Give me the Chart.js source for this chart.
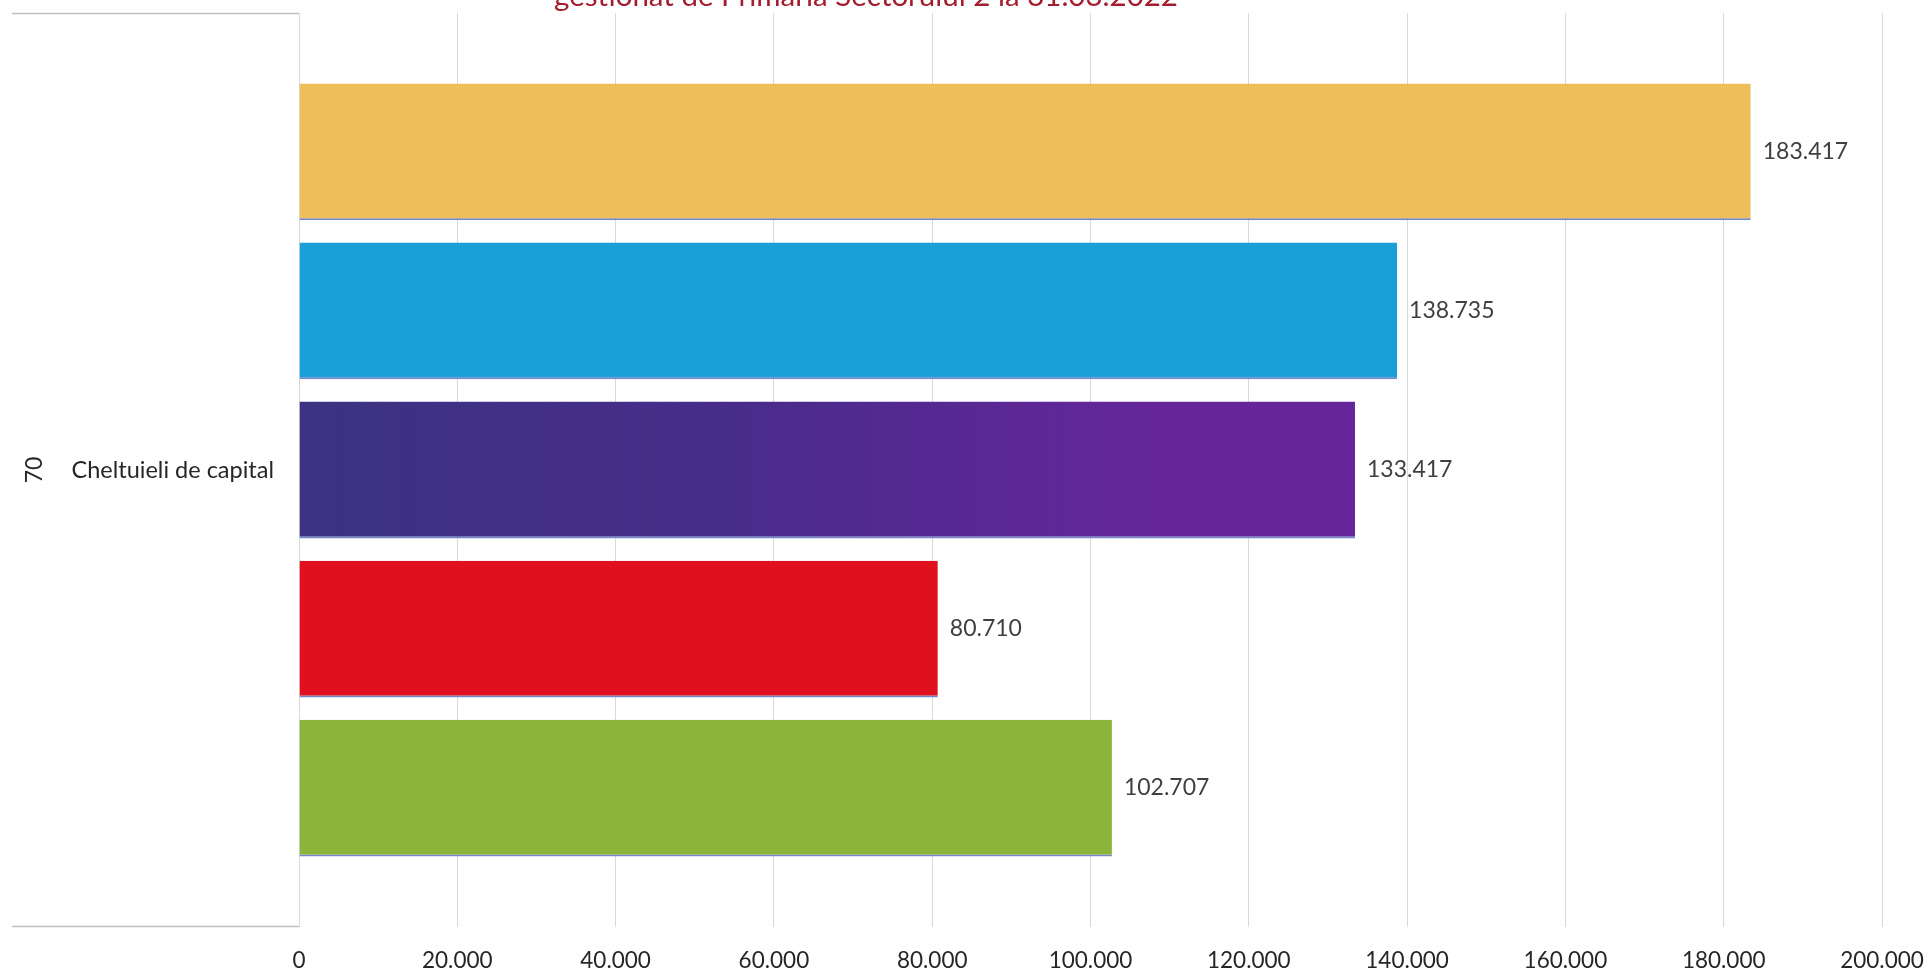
<!DOCTYPE html>
<html>
<head>
<meta charset="utf-8">
<script src="https://cdn.jsdelivr.net/npm/chart.js@4"></script>
<style>
  html, body { margin: 0; padding: 0; background: #ffffff; }
  #wrap { width: 1928px; height: 974px; position: relative; }
</style>
</head>
<body>
<div id="wrap"><canvas id="c" width="1928" height="974"></canvas></div>
<script>
// ---- data ----
const categoryCodes = ['70'];
const categories = ['Cheltuieli de capital'];
const seriesNames = ['Seria 1', 'Seria 2', 'Seria 3', 'Seria 4', 'Seria 5'];
const seriesValues = [[183417], [138735], [133417], [80710], [102707]];
const seriesColors = ['#EEBE5B', '#1B9FD8', 'purple-gradient', '#E0101E', '#8CB43B'];
const xTicks = [0, 20000, 40000, 60000, 80000, 100000, 120000, 140000, 160000, 180000, 200000];
const titleText = 'gestionat de Primăria Sectorului 2 la 31.03.2022';

const FONT = 'Lato, "Open Sans", sans-serif';
const fmt = v => String(Math.round(v)).replace(/\B(?=(\d{3})+(?!\d))/g, '.');

function purpleGradient(ctx) {
  const chart = ctx.chart;
  const area = chart.chartArea;
  if (!area) return '#4F2D8E';
  const g = chart.ctx.createLinearGradient(area.left, 0, area.left + (area.right - area.left) * 0.55, 0);
  g.addColorStop(0, '#3B3383');
  g.addColorStop(0.5, '#482C8A');
  g.addColorStop(1, '#66269B');
  return g;
}

const datasets = seriesNames.map((name, i) => ({
  label: name,
  data: seriesValues[i],
  backgroundColor: seriesColors[i] === 'purple-gradient' ? purpleGradient : seriesColors[i],
  borderColor: '#7388C8',
  borderWidth: { top: 0, right: 0, bottom: 2, left: 0 },
  borderSkipped: false,
  categoryPercentage: 0.87,
  barPercentage: 0.86
}));

const extras = {
  id: 'extras',
  afterDraw(chart) {
    const ctx = chart.ctx;
    const a = chart.chartArea;
    ctx.save();
    // left category box lines
    ctx.strokeStyle = '#BFBFBF';
    ctx.lineWidth = 1.5;
    ctx.beginPath();
    ctx.moveTo(12, a.top + 0.5); ctx.lineTo(a.left, a.top + 0.5);
    ctx.moveTo(12, a.bottom - 0.5); ctx.lineTo(a.left, a.bottom - 0.5);
    ctx.stroke();
    // category labels + codes
    const yScale = chart.scales.y;
    categories.forEach((cat, i) => {
      const y = yScale.getPixelForValue(i);
      ctx.fillStyle = '#262626';
      ctx.font = '23.5px ' + FONT;
      ctx.textAlign = 'right';
      ctx.textBaseline = 'middle';
      ctx.fillText(cat, a.left - 25, y);
      ctx.save();
      ctx.translate(35, y);
      ctx.rotate(-Math.PI / 2);
      ctx.font = '23px ' + FONT;
      ctx.textAlign = 'center';
      ctx.fillText(categoryCodes[i], 0, 0);
      ctx.restore();
    });
    // data labels
    ctx.fillStyle = '#404040';
    ctx.font = '23px ' + FONT;
    ctx.textAlign = 'left';
    ctx.textBaseline = 'middle';
    chart.data.datasets.forEach((ds, di) => {
      const meta = chart.getDatasetMeta(di);
      meta.data.forEach((bar, j) => {
        ctx.fillText(fmt(ds.data[j]), bar.x + 12, bar.y);
      });
    });
    // cut-off title
    ctx.fillStyle = '#A31D2E';
    ctx.font = '29.5px ' + FONT;
    ctx.textAlign = 'center';
    ctx.textBaseline = 'alphabetic';
    ctx.fillText(titleText, 866, 6);
    ctx.restore();
  }
};

new Chart(document.getElementById('c'), {
  type: 'bar',
  data: { labels: categories, datasets },
  options: {
    indexAxis: 'y',
    responsive: false,
    animation: false,
    layout: { padding: { left: 12, top: 13, right: 46, bottom: 0 } },
    plugins: { legend: { display: false }, tooltip: { enabled: false }, title: { display: false } },
    scales: {
      x: {
        min: 0, max: 200000,
        afterBuildTicks: s => { s.ticks = xTicks.map(v => ({ value: v })); },
        ticks: { callback: v => fmt(v), color: '#262626', font: { family: FONT, size: 22.5 }, padding: 0, maxRotation: 0 },
        grid: { color: '#D9D9D9', lineWidth: 1, drawTicks: true, tickLength: 20, tickColor: 'rgba(0,0,0,0)' },
        border: { display: false }
      },
      y: {
        afterFit: s => { s.width = 287; },
        ticks: { display: false, padding: 0 },
        grid: { display: false, drawTicks: false },
        border: { display: false }
      }
    }
  },
  plugins: [extras]
});
</script>
</body>
</html>
